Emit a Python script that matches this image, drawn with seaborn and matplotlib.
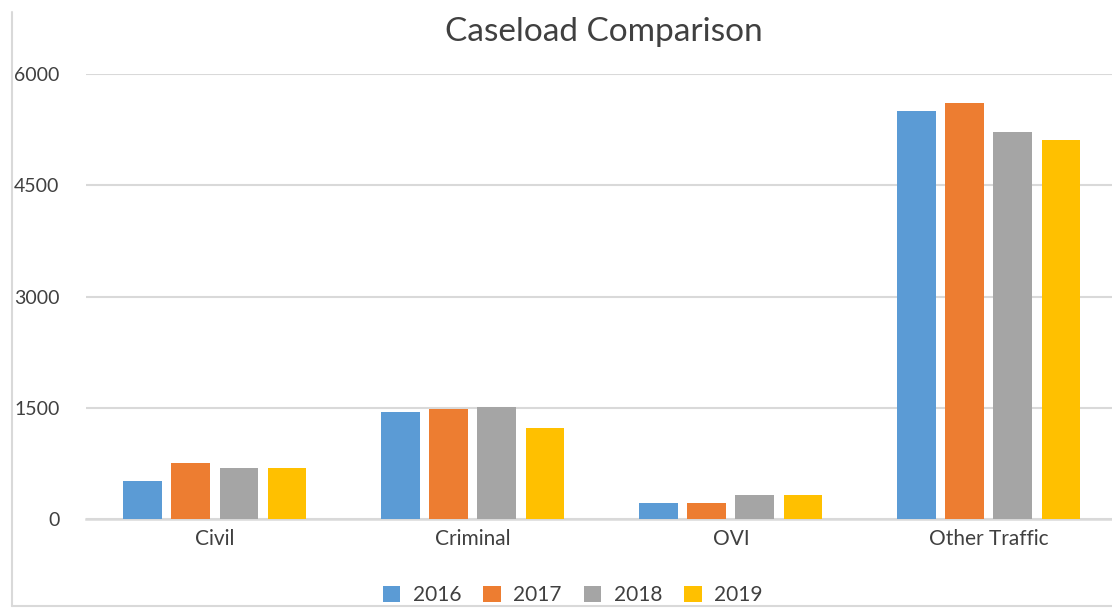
import pandas as pd
import numpy as np
import seaborn as sns
import matplotlib.pyplot as plt
from matplotlib.lines import Line2D

#####################################################
## Data
categories = ['Civil', 'Criminal', 'OVI', 'Other Traffic']
years = ['2016', '2017', '2018', '2019']
cases_2016 = [515, 1442, 216, 5500]
cases_2017 = [759, 1483, 216, 5608]
cases_2018 = [692, 1514, 324, 5217]
cases_2019 = [692, 1231, 324, 5109]
colors = ['#5B9BD5', '#ED7D31', '#A5A5A5', '#FFC000']
#####################################################

rows = []
for year, vals in zip(years, [cases_2016, cases_2017, cases_2018, cases_2019]):
    for cat, v in zip(categories, vals):
        rows.append({'Category': cat, 'Year': year, 'Cases': v})
df = pd.DataFrame(rows)

sns.set_style('white')
plt.rcParams['font.family'] = ['Lato', 'DejaVu Sans']

fig = plt.figure(figsize=(11.12, 6.08), dpi=100)
ax = fig.add_axes([0.0773, 0.1464, 0.928, 0.7316])

sns.barplot(data=df, x='Category', y='Cases', hue='Year', palette=colors,
            width=0.745, gap=0.19, saturation=1, linewidth=0, ax=ax, zorder=3)

ax.set_ylim(0, 6000)
ax.set_yticks([0, 1500, 3000, 4500, 6000])
ax.yaxis.grid(True, color='#d9d9d9', linewidth=1.5, zorder=0)
ax.set_axisbelow(True)
for s in ['top', 'right', 'left']:
    ax.spines[s].set_visible(False)
ax.spines['bottom'].set_color('#d9d9d9')
ax.spines['bottom'].set_linewidth(1.8)
ax.tick_params(axis='both', length=0, colors='#404040')
ax.tick_params(axis='y', pad=19, labelsize=14)
ax.tick_params(axis='x', pad=7, labelsize=15)
ax.set_xlabel('')
ax.set_ylabel('')

fig.suptitle('Caseload Comparison', x=0.543, y=0.972, fontsize=24, color='#404040')

# legend at bottom
ax.legend_.remove()
fig.legend(*ax.get_legend_handles_labels(), loc='center', bbox_to_anchor=(0.515, 0.021),
           ncol=4, frameon=False, fontsize=15, handlelength=0.85, handleheight=0.85,
           handletextpad=0.6, columnspacing=1.05, labelcolor='#404040')

# chart frame edges
fig.add_artist(Line2D([12 / 1112, 12 / 1112], [0.003, 1 - 12 / 608], color='#d9d9d9', linewidth=1.5))
fig.add_artist(Line2D([12 / 1112, 1], [0.003, 0.003], color='#d9d9d9', linewidth=1.5))

plt.savefig('out.png', dpi=100)
